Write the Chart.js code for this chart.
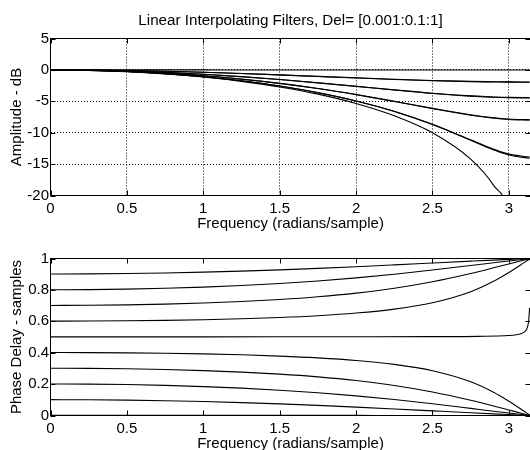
<!DOCTYPE html>
<html>
<head>
<meta charset="utf-8">
<script src="https://cdn.jsdelivr.net/npm/chart.js@4.4.1/dist/chart.umd.min.js"></script>
<style>
  body { margin: 0; background: #fff; overflow: hidden; width: 530px; height: 450px; }
  canvas { position: absolute; left: 0; }
  #ampChart { top: 0; }
  #phaseChart { top: 235px; }
</style>
</head>
<body>
<canvas id="ampChart" width="545" height="235"></canvas>
<canvas id="phaseChart" width="545" height="225"></canvas>
<script>
// Delays plotted, Del = [0.001:0.1:1]
const delays = [0.001, 0.101, 0.201, 0.301, 0.401, 0.501, 0.601, 0.701, 0.801, 0.901];
const freqTicks = [0, 0.5, 1, 1.5, 2, 2.5, 3];
const freqMax = 3.1416;
const ampTicks = [-20, -15, -10, -5, 0, 5];
const phaseTicks = [0, 0.2, 0.4, 0.6, 0.8, 1];

// Amplitude (dB)
const ampFreq = [0, 0.25, 0.5, 0.75, 1, 1.25, 1.5, 1.75, 2, 2.25, 2.5, 2.75, 2.9, 3.0, 3.1355];
const ampD001 = [0, 0, 0, 0, 0, -0.01, -0.01, -0.01, -0.01, -0.01, -0.02, -0.02, -0.02, -0.02, -0.02];
const ampD101 = [0, -0.02, -0.10, -0.22, -0.38, -0.58, -0.80, -1.05, -1.29, -1.52, -1.72, -1.87, -1.92, -1.95, -1.96];
const ampD201 = [0, -0.04, -0.17, -0.39, -0.69, -1.08, -1.54, -2.07, -2.63, -3.21, -3.75, -4.18, -4.35, -4.43, -4.47];
const ampD301 = [0, -0.06, -0.23, -0.52, -0.93, -1.48, -2.15, -2.97, -3.94, -5.02, -6.16, -7.21, -7.68, -7.89, -8.00];
const ampD401 = [0, -0.07, -0.26, -0.60, -1.08, -1.73, -2.57, -3.63, -4.95, -6.62, -8.71, -11.22, -12.74, -13.56, -14.07];
const ampD501 = [0, -0.07, -0.27, -0.63, -1.13, -1.82, -2.71, -3.86, -5.35, -7.31, -10.02, -14.22, -18.38, -23.01, -48.8];
const ampD601 = [0, -0.07, -0.26, -0.60, -1.08, -1.73, -2.56, -3.62, -4.94, -6.59, -8.66, -11.13, -12.62, -13.41, -13.89];
const ampD701 = [0, -0.06, -0.23, -0.52, -0.93, -1.47, -2.14, -2.96, -3.92, -4.99, -6.11, -7.14, -7.61, -7.81, -7.92];
const ampD801 = [0, -0.04, -0.17, -0.39, -0.69, -1.07, -1.53, -2.05, -2.61, -3.18, -3.72, -4.14, -4.31, -4.38, -4.41];
const ampD901 = [0, -0.02, -0.10, -0.21, -0.37, -0.57, -0.79, -1.03, -1.26, -1.49, -1.69, -1.83, -1.88, -1.91, -1.92];

// Phase delay (samples)
const phaseFreq = [0, 0.25, 0.5, 0.75, 1, 1.25, 1.5, 1.75, 2, 2.25, 2.5, 2.75, 2.9, 3.0, 3.1, 3.1355];
const kneeFreq = [0, 0.5, 1, 1.5, 2, 2.5, 2.8, 3.0, 3.05, 3.08, 3.1, 3.11, 3.12, 3.13, 3.1355];
const phaseD001 = [0.001, 0.001, 0.001, 0.0009, 0.0008, 0.0008, 0.0007, 0.0006, 0.0005, 0.0003, 0.0002, 0.0001, 0.0001, 0.0001, 0, 0];
const phaseD101 = [0.101, 0.1002, 0.0980, 0.0942, 0.0889, 0.0821, 0.0738, 0.0642, 0.0534, 0.0417, 0.0295, 0.0174, 0.0104, 0.0060, 0.0017, 0.0002];
const phaseD201 = [0.201, 0.2000, 0.1970, 0.1918, 0.1842, 0.1742, 0.1612, 0.1449, 0.1251, 0.1015, 0.0746, 0.0453, 0.0274, 0.0158, 0.0045, 0.0007];
const phaseD301 = [0.301, 0.3001, 0.2974, 0.2928, 0.2859, 0.2763, 0.2633, 0.2459, 0.2226, 0.1914, 0.1499, 0.0969, 0.0604, 0.0352, 0.0101, 0.0015];
const phaseD401 = [0.401, 0.4005, 0.3990, 0.3963, 0.3923, 0.3865, 0.3784, 0.3670, 0.3505, 0.3254, 0.2850, 0.2147, 0.1480, 0.0910, 0.0271, 0.0039];
const phaseD501 = [0.501, 0.5010, 0.5011, 0.5012, 0.5016, 0.5024, 0.5041, 0.5094, 0.5143, 0.5211, 0.5309, 0.5405, 0.5587, 0.6062, 0.6853];
const phaseD601 = [0.601, 0.6015, 0.6031, 0.6058, 0.6099, 0.6158, 0.6240, 0.6356, 0.6524, 0.6777, 0.7185, 0.7889, 0.8551, 0.9111, 0.9736, 0.9962];
const phaseD701 = [0.701, 0.7019, 0.7046, 0.7093, 0.7162, 0.7258, 0.7389, 0.7564, 0.7797, 0.8108, 0.8520, 0.9045, 0.9405, 0.9654, 0.9900, 0.9986];
const phaseD801 = [0.801, 0.8020, 0.8050, 0.8102, 0.8177, 0.8278, 0.8407, 0.8569, 0.8766, 0.8999, 0.9266, 0.9555, 0.9730, 0.9845, 0.9956, 0.9994];
const phaseD901 = [0.901, 0.9018, 0.9040, 0.9077, 0.9129, 0.9197, 0.9278, 0.9372, 0.9478, 0.9593, 0.9712, 0.9830, 0.9899, 0.9942, 0.9983, 0.9998];

const ampSeries = [ampD001, ampD101, ampD201, ampD301, ampD401, ampD501, ampD601, ampD701, ampD801, ampD901];
const phaseSeries = [phaseD001, phaseD101, phaseD201, phaseD301, phaseD401, phaseD501, phaseD601, phaseD701, phaseD801, phaseD901];

const FONT = "'Liberation Sans', Arial, Helvetica, sans-serif";
Chart.defaults.font.family = FONT;
Chart.defaults.font.size = 15;
Chart.defaults.color = '#000';

// MATLAB style box with inward tick marks on all four sides
const axesBox = {
  id: 'axesBox',
  afterDatasetsDraw(chart) {
    const { ctx, chartArea: a, scales: { x, y } } = chart;
    const len = 5;
    ctx.save();
    ctx.strokeStyle = '#000';
    ctx.lineWidth = 1;
    ctx.beginPath();
    x.ticks.forEach((t) => {
      const px = Math.round(x.getPixelForValue(t.value)) + 0.5;
      ctx.moveTo(px, a.top); ctx.lineTo(px, a.top + len);
      ctx.moveTo(px, a.bottom); ctx.lineTo(px, a.bottom - len);
    });
    y.ticks.forEach((t) => {
      const py = Math.round(y.getPixelForValue(t.value)) + 0.5;
      ctx.moveTo(a.left, py); ctx.lineTo(a.left + len, py);
      ctx.moveTo(a.right, py); ctx.lineTo(a.right - len, py);
    });
    ctx.stroke();
    ctx.strokeRect(a.left, a.top, a.right - a.left, a.bottom - a.top);
    ctx.restore();
  },
};

// Title centred over the axes, not over the whole canvas
const axesTitle = {
  id: 'axesTitle',
  afterDraw(chart, args, opts) {
    if (!opts.text) return;
    const { ctx, chartArea: a } = chart;
    ctx.save();
    ctx.font = `${opts.size}px ${FONT}`;
    ctx.fillStyle = '#000';
    ctx.textAlign = 'center';
    ctx.textBaseline = 'middle';
    ctx.fillText(opts.text, (a.left + a.right) / 2, opts.y);
    ctx.restore();
  },
};

function makeDatasets(series, freqFor) {
  return series.map((vals, i) => ({
    label: 'Del ' + delays[i],
    data: vals.map((v, j) => ({ x: freqFor(i)[j], y: v })),
    borderColor: '#000',
    borderWidth: 1.1,
    pointRadius: 0,
    cubicInterpolationMode: 'monotone',
  }));
}

function makeOptions(cfg) {
  return {
    responsive: false,
    animation: false,
    devicePixelRatio: 1,
    layout: { padding: { left: 0, right: 14.5, top: cfg.padTop, bottom: 0 } },
    plugins: {
      legend: { display: false },
      tooltip: { enabled: false },
      title: { display: false },
      axesTitle: cfg.title,
    },
    scales: {
      x: {
        type: 'linear',
        min: 0,
        max: freqMax,
        afterFit: (s) => { s.height = cfg.xHeight; },
        afterBuildTicks: (s) => { s.ticks = freqTicks.map((v) => ({ value: v })); },
        ticks: { padding: 4, maxRotation: 0, autoSkip: false, callback: (v) => String(v) },
        grid: { display: cfg.grid, color: '#000', lineWidth: 1, drawTicks: false },
        border: { display: false, dash: [1, 2] },
        title: {
          display: true,
          text: 'Frequency (radians/sample)',
          padding: { top: 0, bottom: cfg.xTitlePad },
        },
      },
      y: {
        type: 'linear',
        min: cfg.yTicks[0],
        max: cfg.yTicks[cfg.yTicks.length - 1],
        afterFit: (s) => { s.width = 50.5; },
        afterBuildTicks: (s) => { s.ticks = cfg.yTicks.map((v) => ({ value: v })); },
        ticks: { padding: 1.5, callback: (v) => String(v) },
        grid: { display: cfg.grid, color: '#000', lineWidth: 1, drawTicks: false },
        border: { display: false, dash: [1, 2] },
        title: {
          display: true,
          text: cfg.yLabel,
          padding: { top: 8, bottom: 0 },
        },
      },
    },
  };
}

new Chart(document.getElementById('ampChart'), {
  type: 'line',
  data: { datasets: makeDatasets(ampSeries, () => ampFreq) },
  options: makeOptions({
    padTop: 38.5,
    xHeight: 39.5,
    xTitlePad: 2,
    grid: true,
    yTicks: ampTicks,
    yLabel: 'Amplitude - dB',
    title: { text: 'Linear Interpolating Filters, Del= [0.001:0.1:1]', size: 15.2, y: 21 },
  }),
  plugins: [axesBox, axesTitle],
});

new Chart(document.getElementById('phaseChart'), {
  type: 'line',
  data: { datasets: makeDatasets(phaseSeries, (i) => (delays[i] === 0.501 ? kneeFreq : phaseFreq)) },
  options: makeOptions({
    padTop: 23.5,
    xHeight: 44.5,
    xTitlePad: 7,
    grid: false,
    yTicks: phaseTicks,
    yLabel: 'Phase Delay - samples',
    title: { text: '' },
  }),
  plugins: [axesBox, axesTitle],
});
</script>
</body>
</html>
